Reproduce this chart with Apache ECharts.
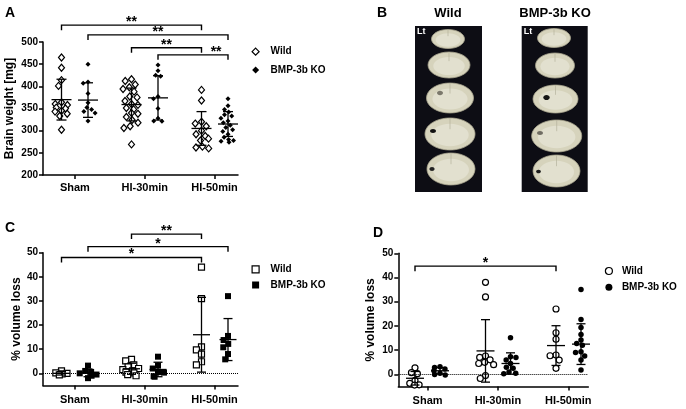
<!DOCTYPE html>
<html>
<head>
<meta charset="utf-8">
<script src="https://cdn.jsdelivr.net/npm/echarts@6/dist/echarts.min.js"></script>
<style>
html, body { margin: 0; padding: 0; background: #fff; }
#main { width: 686px; height: 409px; }
</style>
</head>
<body>
<div id="main"></div>
<script>
var groups = ['Sham', 'HI-30min', 'HI-50min'];
var strains = ['Wild', 'BMP-3b KO'];

// A: brain weight [mg], one list per group
var weightWild = [
  [465, 442, 414, 401, 364, 360, 358, 352, 350, 345, 343, 338, 333, 302],
  [416, 412, 404, 398, 394, 388, 377, 375, 367, 360, 358, 351, 348, 340, 338, 331, 324, 318, 310, 306, 269],
  [392, 368, 320, 316, 310, 300, 292, 288, 282, 278, 264, 262, 260]
];
var weightKO = [
  [450, 410, 407, 384, 363, 352, 348, 343, 340, 322],
  [448, 435, 425, 423, 377, 372, 350, 328, 322, 321],
  [372, 356, 348, 342, 336, 333, 328, 322, 318, 312, 307, 302, 298, 292, 285, 280, 278, 276, 274]
];
var weightWildMean = [370, 359, 305];
var weightWildSD = [46, 37, 38];
var weightKOMean = [369, 374, 315];
var weightKOSD = [39, 50, 28];

// C: % volume loss
var lossCWild = [
  [1.0, 0.2, 0, -0.2, -0.6],
  [5.8, 5.2, 3.5, 2.7, 2.0, 1.5, 1.0, 0.5, 0.2, -0.5, -1.0],
  [44, 31, 11, 9.7, 8, 4.8, 3.5]
];
var lossCKO = [
  [3.2, 1.0, 0.6, 0, -0.5, -1.0, -2.0],
  [6.9, 3.2, 2.0, 0.5, 0.3, -1.2, -1.4],
  [32, 15.5, 13.8, 12.2, 10.8, 8, 5.8]
];
var lossCWildMean = [0, 1.9, 16];
var lossCWildSD = [0.7, 2.3, 15.5];
var lossCKOMean = [0.2, 1.6, 14];
var lossCKOSD = [1.6, 3.0, 8.7];

// D: % volume loss
var lossDWild = [
  [2.7, 0.7, 0.3, -2.5, -3.7, -4.3, -4.4],
  [38, 32, 7.6, 7, 6, 5, 4.5, 4, -0.5, -1.7],
  [27, 17.2, 14.5, 8, 7.7, 5.9, 2.5]
];
var lossDKO = [
  [3.2, 2.8, 2.2, 1.5, 0.5, 0, -0.2],
  [15.1, 7.3, 7.0, 5.9, 4.5, 3.0, 2.5, 1.0, 0.5, 0.3],
  [35.1, 22.7, 19.4, 16.5, 14.2, 12.8, 12, 9.3, 9, 7.6, 5.9, 1.8]
];
var lossDWildMean = [-1.6, 9.7, 11.9];
var lossDWildSD = [2.8, 12.9, 8.2];
var lossDKOMean = [1.5, 4.5, 12.5];
var lossDKOSD = [1.3, 4.4, 8.4];

// significance brackets: [strain, fromGroup, toGroup, y, label, label position]
var bracketsA = [[0, 0, 2, 538, '**', 0.5], [1, 0, 2, 516, '**', 0.5], [0, 1, 2, 487, '**', 0.5], [1, 1, 2, 471, '**', 0.83]];
var bracketsC = [[0, 1, 2, 57.7, '**', 0.5], [1, 0, 2, 52.5, '*', 0.5], [0, 0, 2, 48, '*', 0.5]];
var bracketsD = [[0, 0, 2, 44.7, '*', 0.5]];

var yTicksLoss = [0, 10, 20, 30, 40, 50];

var FONT = 'Liberation Sans, Arial, sans-serif';

var panels = [
  { left: 43, top: 42, width: 195, height: 133, yMin: 200, yMax: 500, yInterval: 50,
    xMin: 0.543, xMax: 3.336, firstX: [61.5, 88], band: 70, labelMargin: 7,
    yName: 'Brain weight [mg]', nameGap: 27,
    values: [weightWild, weightKO], means: [weightWildMean, weightKOMean], sds: [weightWildSD, weightKOSD],
    symbols: ['diamond', 'diamond'], sizes: [[6, 7], 5], brackets: bracketsA, zeroLine: false, bar: [10, 5] },
  { left: 43, top: 252.7, width: 195, height: 132.7, yMin: -5, yMax: 50, yTicks: yTicksLoss,
    xMin: 0.543, xMax: 3.336, firstX: [61.5, 88], band: 70, labelMargin: 9,
    yName: '% volume loss', nameGap: 20,
    values: [lossCWild, lossCKO], means: [lossCWildMean, lossCKOMean], sds: [lossCWildSD, lossCKOSD],
    symbols: ['rect', 'rect'], sizes: [6, 6], brackets: bracketsC, zeroLine: true, bar: [8.5, 4.5] },
  { left: 398.3, top: 253.3, width: 190, height: 133.2, yMin: -5, yMax: 50, yTicks: yTicksLoss,
    xMin: 0.584, xMax: 3.285, firstX: [415, 440], band: 70.5, labelMargin: 9,
    yName: '% volume loss', nameGap: 22,
    values: [lossDWild, lossDKO], means: [lossDWildMean, lossDKOMean], sds: [lossDWildSD, lossDKOSD],
    symbols: ['circle', 'circle'], sizes: [6, 5.5], brackets: bracketsD, zeroLine: true, bar: [9, 4.5] }
];

var grids = [], xAxes = [], yAxes = [], series = [];

function renderErrorBar(bar) {
  return function (params, api) {
    var m = api.coord([api.value(0), api.value(1)]);
    var hi = api.coord([api.value(0), api.value(1) + api.value(2)]);
    var lo = api.coord([api.value(0), api.value(1) - api.value(2)]);
    var st = { stroke: '#000', lineWidth: 1.3 };
    return { type: 'group', children: [
      { type: 'line', shape: { x1: m[0], y1: hi[1], x2: m[0], y2: lo[1] }, style: st },
      { type: 'line', shape: { x1: m[0] - bar[0], y1: m[1], x2: m[0] + bar[0], y2: m[1] }, style: st },
      { type: 'line', shape: { x1: m[0] - bar[1], y1: hi[1], x2: m[0] + bar[1], y2: hi[1] }, style: st },
      { type: 'line', shape: { x1: m[0] - bar[1], y1: lo[1], x2: m[0] + bar[1], y2: lo[1] }, style: st }
    ] };
  };
}

function renderBracket(labels) {
  return function (params, api) {
    var y = api.value(2);
    var a = api.coord([api.value(0), y]);
    var b = api.coord([api.value(1), y]);
    var f = api.value(3);
    return { type: 'group', children: [
      { type: 'polyline', shape: { points: [[a[0], a[1] + 5], [a[0], a[1]], [b[0], b[1]], [b[0], b[1] + 5]] },
        style: { stroke: '#000', lineWidth: 1.4, fill: null } },
      { type: 'text', x: a[0] + (b[0] - a[0]) * f, y: a[1] + 4,
        style: { text: labels[params.dataIndex], font: 'bold 14px ' + FONT, fill: '#000',
                 align: 'center', verticalAlign: 'bottom' } }
    ] };
  };
}

panels.forEach(function (p) {
  var vg = grids.length;
  grids.push({ left: p.left, top: p.top, width: p.width, height: p.height, containLabel: false });
  xAxes.push({
    gridIndex: vg, type: 'value', min: p.xMin, max: p.xMax,
    axisLine: { show: true, onZero: false, lineStyle: { color: '#000', width: 1.5 } },
    axisTick: { show: true, customValues: [1, 2, 3], length: 4, lineStyle: { color: '#000', width: 1.5 } },
    axisLabel: { customValues: [1, 2, 3], margin: p.labelMargin, color: '#000', fontSize: 11, fontWeight: 'bold', fontFamily: FONT,
                 formatter: function (v) { return groups[Math.round(v) - 1]; } },
    splitLine: { show: false }
  });
  var yAxis = {
    gridIndex: vg, type: 'value', min: p.yMin, max: p.yMax,
    name: p.yName, nameLocation: 'middle', nameGap: p.nameGap,
    nameTextStyle: { color: '#000', fontSize: 12, fontWeight: 'bold', fontFamily: FONT },
    axisLine: { show: true, lineStyle: { color: '#000', width: 1.5 } },
    axisTick: { show: true, length: 4, lineStyle: { color: '#000', width: 1.5 } },
    axisLabel: { margin: 5, color: '#000', fontSize: 10, fontWeight: 'bold', fontFamily: FONT },
    splitLine: { show: false }
  };
  if (p.yInterval) {
    yAxis.interval = p.yInterval;
  } else {
    yAxis.axisTick.customValues = p.yTicks;
    yAxis.axisLabel.customValues = p.yTicks;
  }
  yAxes.push(yAxis);

  if (p.zeroLine) {
    series.push({
      type: 'scatter', xAxisIndex: vg, yAxisIndex: vg, data: [], silent: true,
      markLine: { silent: true, symbol: 'none', label: { show: false }, animation: false,
                  lineStyle: { type: 'dotted', color: '#000', width: 1 }, data: [{ yAxis: 0 }] }
    });
  }

  [0, 1].forEach(function (s) {
    var hg = grids.length;
    grids.push({ left: p.firstX[s] - p.band / 2, top: p.top, width: p.band * 3, height: p.height });
    xAxes.push({ gridIndex: hg, type: 'category', data: groups, show: false, boundaryGap: true,
                 jitter: 18, jitterOverlap: false, jitterMargin: 0 });
    yAxes.push({ gridIndex: hg, type: 'value', min: p.yMin, max: p.yMax, show: false });

    var pts = [];
    p.values[s].forEach(function (list, g) {
      list.forEach(function (v) { pts.push([g, v]); });
    });
    var hollow = s === 0;
    series.push({
      name: strains[s], type: 'scatter', xAxisIndex: hg, yAxisIndex: hg, data: pts,
      symbol: p.symbols[s], symbolSize: p.sizes[s], z: 3, animation: false,
      itemStyle: hollow ? { color: '#fff', borderColor: '#000', borderWidth: 1.2, opacity: 1 }
                        : { color: '#000', opacity: 1 }
    });
    series.push({
      type: 'custom', xAxisIndex: hg, yAxisIndex: hg, z: 4, silent: true, animation: false,
      renderItem: renderErrorBar(p.bar), encode: { x: 0, y: 1 },
      data: p.means[s].map(function (m, g) { return [g, m, p.sds[s][g]]; })
    });
    var br = p.brackets.filter(function (b) { return b[0] === s; });
    if (br.length) {
      series.push({
        type: 'custom', xAxisIndex: hg, yAxisIndex: hg, z: 5, silent: true, clip: false, animation: false,
        renderItem: renderBracket(br.map(function (b) { return b[4]; })), encode: { x: [0, 1], y: 2 },
        data: br.map(function (b) { return [b[1], b[2], b[3], b[5]]; })
      });
    }
  });
});

function legendFor(left, top, gap, textPad, shape) {
  return {
    orient: 'vertical', left: left, top: top, itemWidth: 7, itemHeight: 7, itemGap: gap,
    padding: 0, selectedMode: false,
    textStyle: { color: '#000', fontSize: 10, fontWeight: 'bold', fontFamily: FONT, lineHeight: 12,
                 padding: [0, 0, 0, textPad] },
    data: [
      { name: strains[0], icon: shape, itemStyle: { color: '#fff', borderColor: '#000', borderWidth: 1.2 } },
      { name: strains[1], icon: shape, itemStyle: { color: '#000', borderWidth: 0 } }
    ]
  };
}

// panel B: brain slice photographs
var slicesWild = [[448, 39, 16.5, 9.5], [449, 65, 21, 13], [450, 98, 23.5, 15], [450, 134, 25, 16], [451, 169, 24, 16]];
var slicesKO = [[554, 38, 16.5, 9.5], [555, 65.5, 19.5, 12.5], [555.5, 99, 22.5, 14], [556.7, 136, 25, 16], [556.5, 171, 23.5, 16]];
var lesionsWild = [[440, 93, 3, 2.2, '#7b786c'], [433, 131, 3, 2, '#111'], [432, 169, 2.6, 2, '#222']];
var lesionsKO = [[546.5, 97.5, 3.2, 2.6, '#151515'], [540, 133, 3, 2, '#6f6c62'], [538.5, 171.5, 2.4, 1.8, '#1a1a1a']];

var gfx = [];
function addPanelB(x, w, slices, lesions) {
  gfx.push({ type: 'rect', shape: { x: x, y: 26, width: w, height: 166 }, style: { fill: '#0d0d14' }, z: 1 });
  gfx.push({ type: 'text', x: x + 2, y: 27, style: { text: 'Lt', font: 'bold 9px ' + FONT, fill: '#fff' }, z: 2 });
  slices.forEach(function (s) {
    gfx.push({ type: 'ellipse', shape: { cx: s[0], cy: s[1], rx: s[2], ry: s[3] },
               style: { fill: '#d6d3bc', stroke: '#a8a48e', lineWidth: 0.8 }, z: 2 });
    gfx.push({ type: 'ellipse', shape: { cx: s[0], cy: s[1] + 1, rx: s[2] * 0.75, ry: s[3] * 0.7 },
               style: { fill: '#e2e0cf' }, z: 2 });
    gfx.push({ type: 'line', shape: { x1: s[0], y1: s[1] - s[3], x2: s[0], y2: s[1] - s[3] * 0.3 },
               style: { stroke: '#b5b19c', lineWidth: 0.7 }, z: 2 });
  });
  lesions.forEach(function (l) {
    gfx.push({ type: 'ellipse', shape: { cx: l[0], cy: l[1], rx: l[2], ry: l[3] }, style: { fill: l[4] }, z: 3 });
  });
}
addPanelB(415, 67, slicesWild, lesionsWild);
addPanelB(521.7, 66, slicesKO, lesionsKO);

gfx.push({ type: 'text', x: 448, y: 13, style: { text: 'Wild', font: 'bold 13px ' + FONT, fill: '#000', align: 'center', verticalAlign: 'middle' } });
gfx.push({ type: 'text', x: 555, y: 13, style: { text: 'BMP-3b KO', font: 'bold 13px ' + FONT, fill: '#000', align: 'center', verticalAlign: 'middle' } });

[['A', 5, 6], ['B', 377, 6], ['C', 5, 221], ['D', 373, 226]].forEach(function (t) {
  gfx.push({ type: 'text', x: t[1], y: t[2], style: { text: t[0], font: 'bold 14px ' + FONT, fill: '#000' } });
});

var chart = echarts.init(document.getElementById('main'), null, { renderer: 'canvas' });
chart.setOption({
  backgroundColor: '#fff',
  animation: false,
  grid: grids,
  xAxis: xAxes,
  yAxis: yAxes,
  legend: [
    legendFor(251.5, 45.7, 6.3, 6.5, 'diamond'),
    legendFor(251.5, 263.3, 3.7, 6.5, 'rect'),
    legendFor(604.8, 265, 4.3, 4.5, 'circle')
  ],
  series: series,
  graphic: gfx
});
</script>
</body>
</html>
